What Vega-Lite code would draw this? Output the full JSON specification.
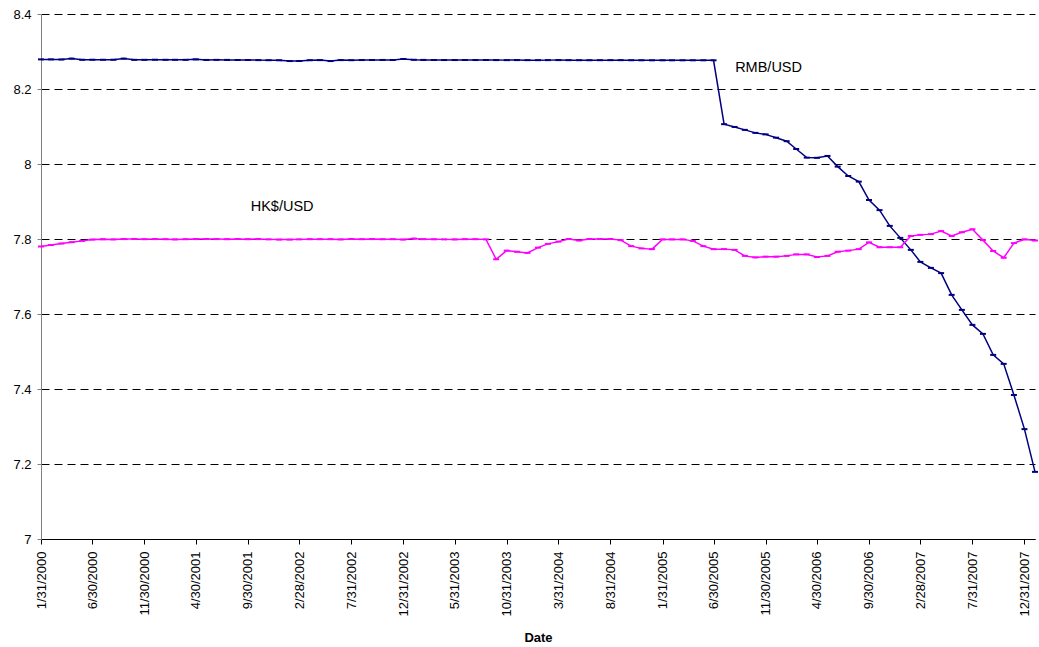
{
  "$schema": "https://vega.github.io/schema/vega-lite/v6.json",
  "width": 998,
  "height": 525,
  "autosize": {"type": "none"},
  "padding": {"left": 41, "top": 14, "right": 0, "bottom": 108},
  "background": "white",
  "config": {"view": {"stroke": null}, "font": "Liberation Sans"},
  "encoding": {
    "x": {
      "field": "date", "type": "temporal",
      "scale": {"type": "utc", "range": [0, 994]},
      "axis": {
        "title": "Date", "titleFontSize": 13, "titleFontWeight": "bold", "titleColor": "black", "titlePadding": 15,
        "values": [
          {"year": 2000, "month": 1, "date": 31, "utc": true},
          {"year": 2000, "month": 6, "date": 30, "utc": true},
          {"year": 2000, "month": 11, "date": 30, "utc": true},
          {"year": 2001, "month": 4, "date": 30, "utc": true},
          {"year": 2001, "month": 9, "date": 30, "utc": true},
          {"year": 2002, "month": 2, "date": 28, "utc": true},
          {"year": 2002, "month": 7, "date": 31, "utc": true},
          {"year": 2002, "month": 12, "date": 31, "utc": true},
          {"year": 2003, "month": 5, "date": 31, "utc": true},
          {"year": 2003, "month": 10, "date": 31, "utc": true},
          {"year": 2004, "month": 3, "date": 31, "utc": true},
          {"year": 2004, "month": 8, "date": 31, "utc": true},
          {"year": 2005, "month": 1, "date": 31, "utc": true},
          {"year": 2005, "month": 6, "date": 30, "utc": true},
          {"year": 2005, "month": 11, "date": 30, "utc": true},
          {"year": 2006, "month": 4, "date": 30, "utc": true},
          {"year": 2006, "month": 9, "date": 30, "utc": true},
          {"year": 2007, "month": 2, "date": 28, "utc": true},
          {"year": 2007, "month": 7, "date": 31, "utc": true},
          {"year": 2007, "month": 12, "date": 31, "utc": true}
        ],
        "labelExpr": "utcFormat(datum.value, '%-m/%-d/%Y')",
        "labelAngle": -90, "labelFontSize": 13, "labelColor": "black",
        "labelOverlap": false, "labelFlush": false, "labelBound": false,
        "domainColor": "black", "tickColor": "black", "tickSize": 5, "labelPadding": 7,
        "grid": false
      }
    },
    "y": {
      "field": "rate", "type": "quantitative",
      "scale": {"domain": [7, 8.4], "nice": false, "zero": false},
      "axis": {
        "title": null,
        "values": [7, 7.2, 7.4, 7.6, 7.8, 8, 8.2, 8.4],
        "format": "~g", "labelFontSize": 13, "labelColor": "black",
        "domainColor": "#808080", "tickColor": "#808080", "tickSize": 4, "labelPadding": 6,
        "grid": true, "gridColor": "black", "gridDash": [8, 5], "gridWidth": 1
      }
    }
  },
  "layer": [
    {
      "data": {"values": [
        {"date": "2000-01-31", "rmb": 8.2790, "hkd": 7.7800},
        {"date": "2000-02-29", "rmb": 8.2790, "hkd": 7.7840},
        {"date": "2000-03-31", "rmb": 8.2787, "hkd": 7.7880},
        {"date": "2000-04-30", "rmb": 8.2810, "hkd": 7.7915},
        {"date": "2000-05-31", "rmb": 8.2780, "hkd": 7.7950},
        {"date": "2000-06-30", "rmb": 8.2781, "hkd": 7.7985},
        {"date": "2000-07-31", "rmb": 8.2780, "hkd": 7.7995},
        {"date": "2000-08-31", "rmb": 8.2781, "hkd": 7.7990},
        {"date": "2000-09-30", "rmb": 8.2810, "hkd": 7.7998},
        {"date": "2000-10-31", "rmb": 8.2778, "hkd": 7.8000},
        {"date": "2000-11-30", "rmb": 8.2778, "hkd": 7.7995},
        {"date": "2000-12-31", "rmb": 8.2781, "hkd": 7.7998},
        {"date": "2001-01-31", "rmb": 8.2779, "hkd": 7.7995},
        {"date": "2001-02-28", "rmb": 8.2779, "hkd": 7.7990},
        {"date": "2001-03-31", "rmb": 8.2778, "hkd": 7.7995},
        {"date": "2001-04-30", "rmb": 8.2790, "hkd": 7.7998},
        {"date": "2001-05-31", "rmb": 8.2775, "hkd": 7.8000},
        {"date": "2001-06-30", "rmb": 8.2777, "hkd": 7.7998},
        {"date": "2001-07-31", "rmb": 8.2776, "hkd": 7.7995},
        {"date": "2001-08-31", "rmb": 8.2774, "hkd": 7.8000},
        {"date": "2001-09-30", "rmb": 8.2773, "hkd": 7.7995},
        {"date": "2001-10-31", "rmb": 8.2770, "hkd": 7.7998},
        {"date": "2001-11-30", "rmb": 8.2768, "hkd": 7.7990},
        {"date": "2001-12-31", "rmb": 8.2766, "hkd": 7.7985},
        {"date": "2002-01-31", "rmb": 8.2745, "hkd": 7.7985},
        {"date": "2002-02-28", "rmb": 8.2747, "hkd": 7.7990},
        {"date": "2002-03-31", "rmb": 8.2767, "hkd": 7.7995},
        {"date": "2002-04-30", "rmb": 8.2770, "hkd": 7.7995},
        {"date": "2002-05-31", "rmb": 8.2745, "hkd": 7.7995},
        {"date": "2002-06-30", "rmb": 8.2770, "hkd": 7.7990},
        {"date": "2002-07-31", "rmb": 8.2768, "hkd": 7.8000},
        {"date": "2002-08-31", "rmb": 8.2772, "hkd": 7.7995},
        {"date": "2002-09-30", "rmb": 8.2774, "hkd": 7.7998},
        {"date": "2002-10-31", "rmb": 8.2775, "hkd": 7.7993},
        {"date": "2002-11-30", "rmb": 8.2774, "hkd": 7.7995},
        {"date": "2002-12-31", "rmb": 8.2800, "hkd": 7.7985},
        {"date": "2003-01-31", "rmb": 8.2779, "hkd": 7.8010},
        {"date": "2003-02-28", "rmb": 8.2776, "hkd": 7.7995},
        {"date": "2003-03-31", "rmb": 8.2774, "hkd": 7.7992},
        {"date": "2003-04-30", "rmb": 8.2772, "hkd": 7.7990},
        {"date": "2003-05-31", "rmb": 8.2772, "hkd": 7.7990},
        {"date": "2003-06-30", "rmb": 8.2773, "hkd": 7.7995},
        {"date": "2003-07-31", "rmb": 8.2772, "hkd": 7.7995},
        {"date": "2003-08-31", "rmb": 8.2774, "hkd": 7.7990},
        {"date": "2003-09-30", "rmb": 8.2771, "hkd": 7.7460},
        {"date": "2003-10-31", "rmb": 8.2770, "hkd": 7.7690},
        {"date": "2003-11-30", "rmb": 8.2771, "hkd": 7.7660},
        {"date": "2003-12-31", "rmb": 8.2769, "hkd": 7.7630},
        {"date": "2004-01-31", "rmb": 8.2769, "hkd": 7.7770},
        {"date": "2004-02-29", "rmb": 8.2770, "hkd": 7.7870},
        {"date": "2004-03-31", "rmb": 8.2771, "hkd": 7.7930},
        {"date": "2004-04-30", "rmb": 8.2769, "hkd": 7.8000},
        {"date": "2004-05-31", "rmb": 8.2768, "hkd": 7.7960},
        {"date": "2004-06-30", "rmb": 8.2767, "hkd": 7.8000},
        {"date": "2004-07-31", "rmb": 8.2768, "hkd": 7.8000},
        {"date": "2004-08-31", "rmb": 8.2769, "hkd": 7.8000},
        {"date": "2004-09-30", "rmb": 8.2769, "hkd": 7.7970},
        {"date": "2004-10-31", "rmb": 8.2767, "hkd": 7.7810},
        {"date": "2004-11-30", "rmb": 8.2766, "hkd": 7.7750},
        {"date": "2004-12-31", "rmb": 8.2765, "hkd": 7.7730},
        {"date": "2005-01-31", "rmb": 8.2765, "hkd": 7.7990},
        {"date": "2005-02-28", "rmb": 8.2765, "hkd": 7.7990},
        {"date": "2005-03-31", "rmb": 8.2765, "hkd": 7.7990},
        {"date": "2005-04-30", "rmb": 8.2765, "hkd": 7.7950},
        {"date": "2005-05-31", "rmb": 8.2765, "hkd": 7.7810},
        {"date": "2005-06-30", "rmb": 8.2765, "hkd": 7.7730},
        {"date": "2005-07-31", "rmb": 8.1062, "hkd": 7.7730},
        {"date": "2005-08-31", "rmb": 8.0988, "hkd": 7.7710},
        {"date": "2005-09-30", "rmb": 8.0910, "hkd": 7.7550},
        {"date": "2005-10-31", "rmb": 8.0830, "hkd": 7.7510},
        {"date": "2005-11-30", "rmb": 8.0790, "hkd": 7.7530},
        {"date": "2005-12-31", "rmb": 8.0702, "hkd": 7.7530},
        {"date": "2006-01-31", "rmb": 8.0608, "hkd": 7.7550},
        {"date": "2006-02-28", "rmb": 8.0400, "hkd": 7.7590},
        {"date": "2006-03-31", "rmb": 8.0170, "hkd": 7.7590},
        {"date": "2006-04-30", "rmb": 8.0165, "hkd": 7.7520},
        {"date": "2006-05-31", "rmb": 8.0215, "hkd": 7.7550},
        {"date": "2006-06-30", "rmb": 7.9930, "hkd": 7.7660},
        {"date": "2006-07-31", "rmb": 7.9680, "hkd": 7.7690},
        {"date": "2006-08-31", "rmb": 7.9530, "hkd": 7.7730},
        {"date": "2006-09-30", "rmb": 7.9040, "hkd": 7.7910},
        {"date": "2006-10-31", "rmb": 7.8770, "hkd": 7.7780},
        {"date": "2006-11-30", "rmb": 7.8350, "hkd": 7.7780},
        {"date": "2006-12-31", "rmb": 7.8030, "hkd": 7.7780},
        {"date": "2007-01-31", "rmb": 7.7710, "hkd": 7.8080},
        {"date": "2007-02-28", "rmb": 7.7390, "hkd": 7.8110},
        {"date": "2007-03-31", "rmb": 7.7230, "hkd": 7.8130},
        {"date": "2007-04-30", "rmb": 7.7090, "hkd": 7.8210},
        {"date": "2007-05-31", "rmb": 7.6510, "hkd": 7.8080},
        {"date": "2007-06-30", "rmb": 7.6110, "hkd": 7.8180},
        {"date": "2007-07-31", "rmb": 7.5710, "hkd": 7.8260},
        {"date": "2007-08-31", "rmb": 7.5470, "hkd": 7.7970},
        {"date": "2007-09-30", "rmb": 7.4910, "hkd": 7.7680},
        {"date": "2007-10-31", "rmb": 7.4670, "hkd": 7.7500},
        {"date": "2007-11-30", "rmb": 7.3840, "hkd": 7.7890},
        {"date": "2007-12-31", "rmb": 7.2930, "hkd": 7.7990},
        {"date": "2008-01-31", "rmb": 7.1790, "hkd": 7.7960}
      ]},
      "transform": [{"fold": ["rmb", "hkd"], "as": ["series", "rate"]}],
      "encoding": {
        "color": {
          "field": "series", "type": "nominal",
          "scale": {"domain": ["rmb", "hkd"], "range": ["#000080", "#FF00FF"]},
          "legend": null
        }
      },
      "layer": [
        {"mark": {"type": "line", "strokeWidth": 1.5}},
        {"mark": {"type": "tick", "orient": "horizontal", "size": 6, "thickness": 2, "opacity": 1}}
      ]
    },
    {
      "data": {"values": [
        {"date": "2005-11-30", "rate": 8.256, "label": "RMB/USD"},
        {"date": "2001-12-31", "rate": 7.886, "label": "HK$/USD"}
      ]},
      "mark": {"type": "text", "fontSize": 14.5, "color": "black", "dx": 3, "align": "center", "baseline": "middle"},
      "encoding": {"text": {"field": "label", "type": "nominal"}}
    }
  ]
}
